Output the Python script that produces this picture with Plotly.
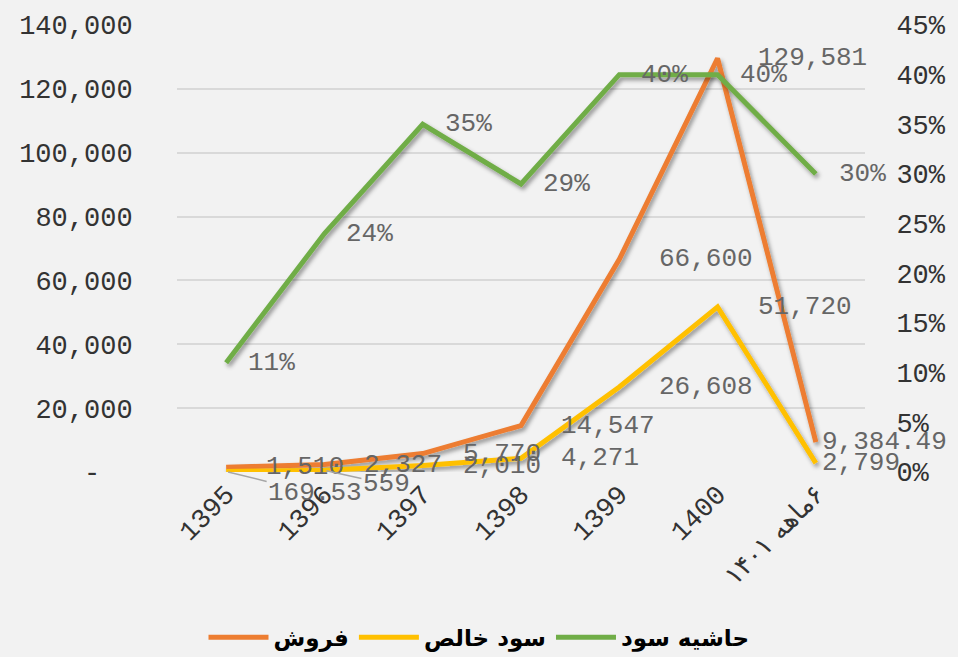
import plotly.graph_objects as go

# Fiscal periods (Solar Hijri years); last one is the six-month figure for 1401
periods = ["1395", "1396", "1397", "1398", "1399", "1400", "1401H"]
period_labels = ["1395", "1396", "1397", "1398", "1399", "1400",
                 "<span style='font-family:DejaVu Sans;font-size:26px'>\u200f۶ماهه ۱۴۰۱</span>"]

# Sales and net profit (million rials) and profit margin
sales = [1510, 2327, 5770, 14547, 66600, 129581, 9384.49]
sales_text = ["1,510", "2,327", "5,770", "14,547", "66,600", "129,581", "9,384.49"]
net_profit = [169.53, 559, 2010, 4271, 26608, 51720, 2799]
net_profit_text = ["169.53", "559", "2,010", "4,271", "26,608", "51,720", "2,799"]
margin = [0.11, 0.24, 0.35, 0.29, 0.40, 0.40, 0.30]
margin_text = ["11%", "24%", "35%", "29%", "40%", "40%", "30%"]

left_ticks = [0, 20000, 40000, 60000, 80000, 100000, 120000, 140000]
left_tick_text = ["-\u00a0\u00a0", "20,000", "40,000", "60,000", "80,000",
                  "100,000", "120,000", "140,000"]

ORANGE = "#ED7D31"
YELLOW = "#FFC000"
GREEN = "#70AD47"
MONO = "Liberation Mono, Courier New, monospace"
LABEL_GRAY = "#666666"
TICK_COLOR = "#333333"

fig = go.Figure()
fig.add_trace(go.Scatter(x=periods, y=sales, name="<b>فروش</b>", mode="lines",
                         line=dict(color=ORANGE, width=5), yaxis="y"))
fig.add_trace(go.Scatter(x=periods, y=net_profit, name="<b>سود خالص</b>", mode="lines",
                         line=dict(color=YELLOW, width=5), yaxis="y"))
fig.add_trace(go.Scatter(x=periods, y=margin, name="<b>حاشیه سود</b>", mode="lines",
                         line=dict(color=GREEN, width=5), yaxis="y2"))

annotations = []


def add_labels(values, texts, yref, shift_main, shift_last, special=None):
    special = special or {}
    for i, (yv, t) in enumerate(zip(values, texts)):
        # category position by index on the category axis
        base = dict(x=i, y=yv, xref="x", yref=yref, text=t,
                    font=dict(family=MONO, size=26, color=LABEL_GRAY))
        if i in special:
            ax, ay = special[i]
            base.update(showarrow=True, arrowhead=0, arrowwidth=1.5,
                        arrowcolor="#A6A6A6", ax=ax, ay=ay, standoff=2)
        else:
            base.update(showarrow=False, xanchor="left", yanchor="middle",
                        xshift=shift_last if i == len(values) - 1 else shift_main)
        annotations.append(base)


add_labels(sales, sales_text, "y", 38, 4)
add_labels(net_profit, net_profit_text, "y", 38, 4, special={0: (89, 22), 1: (62, 14)})
add_labels(margin, margin_text, "y2", 20, 21)

fig.update_layout(
    width=958, height=657,
    paper_bgcolor="#F2F2F2", plot_bgcolor="#F2F2F2",
    margin=dict(l=177, r=86, t=25, b=185),
    showlegend=True,
    legend=dict(orientation="h", xref="container", yref="container",
                x=0.5, xanchor="center", y=0.03, yanchor="middle",
                font=dict(family="DejaVu Sans", size=23, color="#000000"),
                itemwidth=60, bgcolor="rgba(0,0,0,0)"),
    xaxis=dict(type="category", categoryorder="array", categoryarray=periods,
               range=[-0.5, len(periods) - 0.5],
               tickmode="array", tickvals=periods, ticktext=period_labels,
               tickangle=-45, showgrid=False, showline=False, zeroline=False,
               ticks="", tickfont=dict(family=MONO, size=27, color=TICK_COLOR)),
    yaxis=dict(range=[0, 140000], tickmode="array", tickvals=left_ticks,
               ticktext=left_tick_text, showgrid=True, gridcolor="#D9D9D9",
               gridwidth=1.5, zeroline=False, showline=False,
               ticks="outside", ticklen=38, tickcolor="rgba(0,0,0,0)",
               tickfont=dict(family=MONO, size=27, color=TICK_COLOR)),
    yaxis2=dict(range=[0, 0.45], overlaying="y", side="right", dtick=0.05,
                tickformat=".0%", showgrid=False, zeroline=False, showline=False,
                ticks="outside", ticklen=25, tickcolor="rgba(0,0,0,0)",
                tickfont=dict(family=MONO, size=27, color=TICK_COLOR)),
    annotations=annotations,
)

# Soft drop shadow under the series lines (SVG filter on the line paths)
shadow_js = """
var gd = document.getElementById('{plot_id}');
function addLineShadow() {
  var ns = 'http://www.w3.org/2000/svg';
  var svg = gd.querySelector('svg.main-svg');
  var defs = svg.querySelector('defs');
  if (!document.getElementById('lineshadow')) {
    var f = document.createElementNS(ns, 'filter');
    f.setAttribute('id', 'lineshadow');
    f.setAttribute('filterUnits', 'userSpaceOnUse');
    f.setAttribute('x', '-100'); f.setAttribute('y', '-100');
    f.setAttribute('width', '2000'); f.setAttribute('height', '2000');
    var ds = document.createElementNS(ns, 'feDropShadow');
    ds.setAttribute('dx', '2'); ds.setAttribute('dy', '3');
    ds.setAttribute('stdDeviation', '2');
    ds.setAttribute('flood-color', '#000000');
    ds.setAttribute('flood-opacity', '0.4');
    f.appendChild(ds);
    defs.appendChild(f);
  }
  gd.querySelectorAll('.scatterlayer path.js-line').forEach(function (p) {
    p.setAttribute('filter', 'url(#lineshadow)');
  });
}
addLineShadow();
"""

fig.write_html("out.html", post_script=shadow_js)
